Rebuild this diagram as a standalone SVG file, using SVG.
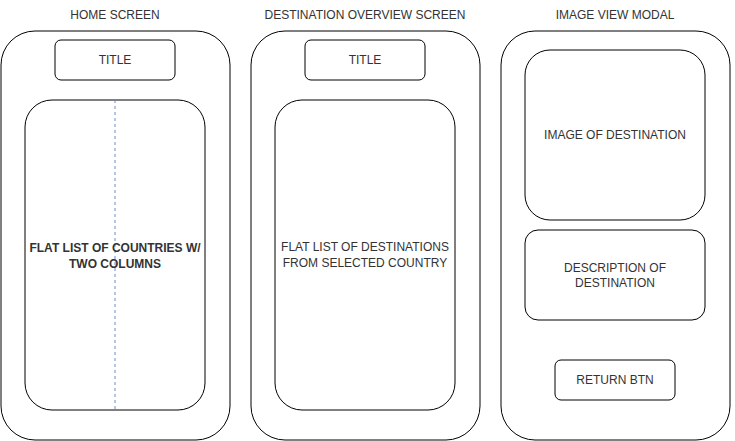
<svg xmlns="http://www.w3.org/2000/svg" width="735" height="441" viewBox="0 0 735 441">
<style>
.box{fill:#ffffff;stroke:#000000;stroke-width:1}
.t{font-family:"Liberation Sans",Arial,sans-serif;font-size:12px;fill:#333333;text-anchor:middle}
.b{font-weight:bold}
.dash{stroke:#6c8ebf;stroke-width:1;stroke-dasharray:3 3;fill:none}
</style>
<rect width="735" height="441" fill="#ffffff"/>
<g id="home-screen">
<text class="t" x="115" y="19">HOME SCREEN</text>
<rect class="box" x="1" y="31" width="229" height="409" rx="34" ry="34"/>
</g>
<g id="home-title">
<rect class="box" x="55" y="40" width="120" height="40" rx="6" ry="6"/>
<text class="t" x="115" y="64">TITLE</text>
</g>
<g id="home-list">
<rect class="box" x="25" y="100" width="180" height="310" rx="27" ry="27"/>
<line class="dash" x1="115" y1="100" x2="115" y2="410"/>
<text class="t b" x="115" y="252">FLAT LIST OF COUNTRIES W/</text>
<text class="t b" x="115" y="268">TWO COLUMNS</text>
</g>
<g id="dest-screen">
<text class="t" x="365" y="19">DESTINATION OVERVIEW SCREEN</text>
<rect class="box" x="251" y="31" width="229" height="409" rx="34" ry="34"/>
</g>
<g id="dest-title">
<rect class="box" x="305" y="40" width="120" height="40" rx="6" ry="6"/>
<text class="t" x="365" y="64">TITLE</text>
</g>
<g id="dest-list">
<rect class="box" x="275" y="100" width="180" height="310" rx="27" ry="27"/>
<text class="t" x="365" y="251">FLAT LIST OF DESTINATIONS</text>
<text class="t" x="365" y="267">FROM SELECTED COUNTRY</text>
</g>
<g id="modal-screen">
<text class="t" x="615" y="19">IMAGE VIEW MODAL</text>
<rect class="box" x="501" y="31" width="229" height="409" rx="34" ry="34"/>
</g>
<g id="modal-image">
<rect class="box" x="525" y="50" width="180" height="170" rx="25" ry="25"/>
<text class="t" x="615" y="139">IMAGE OF DESTINATION</text>
</g>
<g id="modal-description">
<rect class="box" x="525" y="230" width="180" height="90" rx="13" ry="13"/>
<text class="t" x="615" y="272">DESCRIPTION OF</text>
<text class="t" x="615" y="287">DESTINATION</text>
</g>
<g id="modal-return">
<rect class="box" x="555" y="360" width="120" height="40" rx="6" ry="6"/>
<text class="t" x="615" y="384">RETURN BTN</text>
</g>
<g id="connectors"></g>
</svg>
